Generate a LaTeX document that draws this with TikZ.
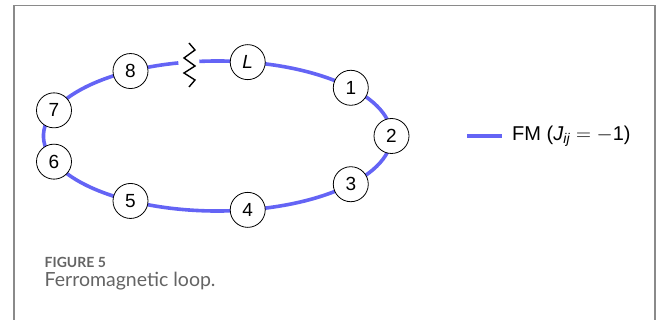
\documentclass[tikz,border=0pt]{standalone}
\usepackage{fontspec}
\setmainfont{Liberation Sans}
\newfontfamily\captionfont{Lato}
\usetikzlibrary{calc}

\definecolor{fmblue}{RGB}{100,100,245}
\definecolor{framegray}{RGB}{138,138,138}
\definecolor{captiongray}{RGB}{100,100,100}

\begin{document}
\begin{tikzpicture}[x=1pt, y=1pt,
        site/.style={draw, circle, fill=white, line width=0.8pt, minimum size=35pt, inner sep=0pt, font=\fontsize{19}{22}\selectfont},
        fm/.style={draw=fmblue, line width=3.6pt}]
        \useasboundingbox (0,0) rectangle (659,-320);

        % Frame around the figure
        \draw[framegray, line width=1.8pt] (14,-320) -- (14,-5.5) -- (655,-5.5) -- (655,-320);

        % Loop, open between 96 and 103 degrees
        \coordinate (centre) at (217.5,-136);
        \coordinate (gapL) at ($(centre)+(103:174pt and 75pt)$);
        \draw[fm] (gapL) arc[start angle=103, end angle=456, x radius=174pt, y radius=75pt];

        % Cut in the loop
        \draw[line width=1.4pt, line join=miter] (189,-43) -- (195,-50) -- (184,-58) -- (195,-66) -- (184,-73) -- (195,-80) -- (189,-87);

        % Sites on the loop
        \node[site] (nL) at ($(centre)+(80:174pt and 75pt)$) {\textit{L}};
        \node[site] (n1) at ($(centre)+(40:174pt and 75pt)$) {1};
        \node[site] (n2) at ($(centre)+(0:174pt and 75pt)$) {2};
        \node[site] (n3) at ($(centre)+(-40:174pt and 75pt)$) {3};
        \node[site] (n4) at ($(centre)+(-80:174pt and 75pt)$) {4};
        \node[site] (n5) at ($(centre)+(-120:174pt and 75pt)$) {5};
        \node[site] (n6) at ($(centre)+(-160:174pt and 75pt)$) {6};
        \node[site] (n7) at ($(centre)+(160:174pt and 75pt)$) {7};
        \node[site] (n8) at ($(centre)+(120:174pt and 75pt)$) {8};

        % Legend
        \coordinate (legA) at (467,-136);
        \coordinate (legB) at (502,-136);
        \draw[fm] (legA) -- (legB);
        \node[anchor=west, inner sep=0pt, font=\fontsize{20}{24}\selectfont] (legtext) at (512,-136.5)
            {FM (\textit{J}\textsubscript{\textit{ij}} $=-$1)};

        % Caption
        \node[anchor=west, inner sep=0pt, text=captiongray, font=\captionfont\bfseries\fontsize{14}{17}\selectfont] (figlabel) at (44.5,-262) {FIGURE 5};
        \node[anchor=west, inner sep=0pt, text=captiongray, font=\captionfont\fontsize{19.5}{23}\selectfont] (figcaption) at (44.5,-281) {Ferromagnetic loop.};
    \end{tikzpicture}
\end{document}
